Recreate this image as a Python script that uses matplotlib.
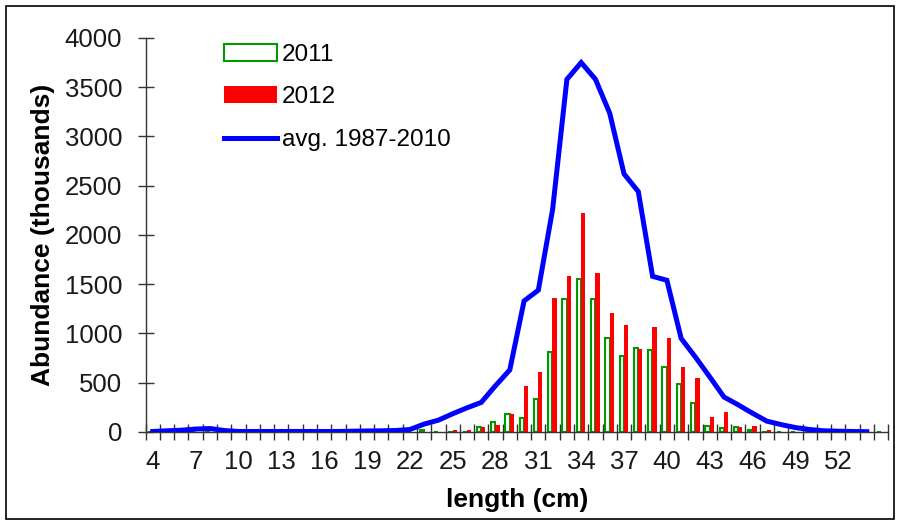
import numpy as np
import matplotlib
matplotlib.use("Agg")
import matplotlib.pyplot as plt
from matplotlib.patches import Rectangle

plt.rcParams['font.family'] = ['Liberation Sans', 'DejaVu Sans']

# length classes (cm)
lengths = list(range(4, 56))

# abundance (thousands) by length class
abund_2011 = {23: 20, 27: 50, 28: 98, 29: 180, 30: 140, 31: 332, 32: 812,
              33: 1347, 34: 1550, 35: 1347, 36: 951, 37: 775, 38: 850,
              39: 836, 40: 657, 41: 484, 42: 291, 43: 64, 44: 37, 45: 51,
              46: 24}
abund_2012 = {25: 17, 26: 17, 27: 51, 28: 68, 29: 180, 30: 470, 31: 612,
              32: 1364, 33: 1587, 34: 2227, 35: 1611, 36: 1211, 37: 1083,
              38: 840, 39: 1069, 40: 954, 41: 663, 42: 551, 43: 155,
              44: 206, 45: 51, 46: 58, 47: 17}
avg_1987_2010 = [5, 12, 18, 30, 35, 15, 5, 5, 5, 5, 5, 5, 5, 5, 8, 10, 12,
                 15, 25, 80, 120, 185, 245, 300, 470, 630, 1330, 1440, 2260,
                 3580, 3750, 3580, 3235, 2620, 2440, 1580, 1540, 950, 760,
                 560, 355, 275, 190, 110, 75, 45, 25, 12, 8, 5, 3]

y_ticks = [0, 500, 1000, 1500, 2000, 2500, 3000, 3500, 4000]
x_labels = list(range(4, 53, 3))

x = np.array(lengths, dtype=float)
v2011 = np.array([abund_2011.get(c, 0) for c in lengths])
v2012 = np.array([abund_2012.get(c, 0) for c in lengths])
x_avg = np.arange(4, 4 + len(avg_1987_2010))

fig = plt.figure(figsize=(8.99, 5.24), dpi=100)
ax = fig.add_axes([0.162, 0.1756, 0.826, 0.752])

w = 0.3
b1 = ax.bar(x - 0.16, v2011, width=w, facecolor='white', edgecolor='#009900',
            linewidth=1.5, label='2011', zorder=2)
b2 = ax.bar(x + 0.14, v2012, width=w, color='#ff0000', linewidth=0,
            label='2012', zorder=2)
ln, = ax.plot(x_avg, avg_1987_2010, color='#0000ff', linewidth=3.6,
              solid_joinstyle='miter', label='avg. 1987-2010', zorder=3)

ax.set_xlim(3.5, 55.5)
ax.set_ylim(0, 4000)

for s in ('top', 'right'):
    ax.spines[s].set_visible(False)
for s in ('left', 'bottom'):
    ax.spines[s].set_color('#333333')
    ax.spines[s].set_linewidth(1.0)

# ticks between categories, labels on every third class
ax.set_xticks(np.arange(3.5, 56, 1.0))
ax.set_xticklabels([])
ax.set_xticks(x_labels, minor=True)
ax.set_xticklabels([str(v) for v in x_labels], minor=True)
ax.tick_params(axis='x', which='major', direction='inout', length=12,
               width=1.0, color='#333333')
ax.tick_params(axis='x', which='minor', length=0, pad=13, labelsize=18.5,
               labelcolor='#1a1a1a')

ax.set_yticks(y_ticks)
ax.set_yticklabels([str(v) for v in y_ticks])
ax.tick_params(axis='y', direction='inout', length=12, width=1.0,
               color='#333333', pad=11, labelsize=18.5, labelcolor='#1a1a1a')

ax.set_xlabel('length (cm)', fontsize=19, fontweight='bold', labelpad=10)
ax.set_ylabel('Abundance (thousands)', fontsize=19, fontweight='bold',
              labelpad=7)

ax.legend(handles=[b1, b2, ln], loc='upper left',
          bbox_to_anchor=(0.092, 1.01), frameon=False,
          fontsize=17.5, handlelength=2.2, handletextpad=0.2,
          labelspacing=0.85, borderaxespad=0)

fig.patches.append(Rectangle((6 / 899, 5 / 524), 888 / 899, 513 / 524,
                             transform=fig.transFigure, fill=False,
                             edgecolor='black', linewidth=1.2))

fig.savefig('out.png', dpi=100)
